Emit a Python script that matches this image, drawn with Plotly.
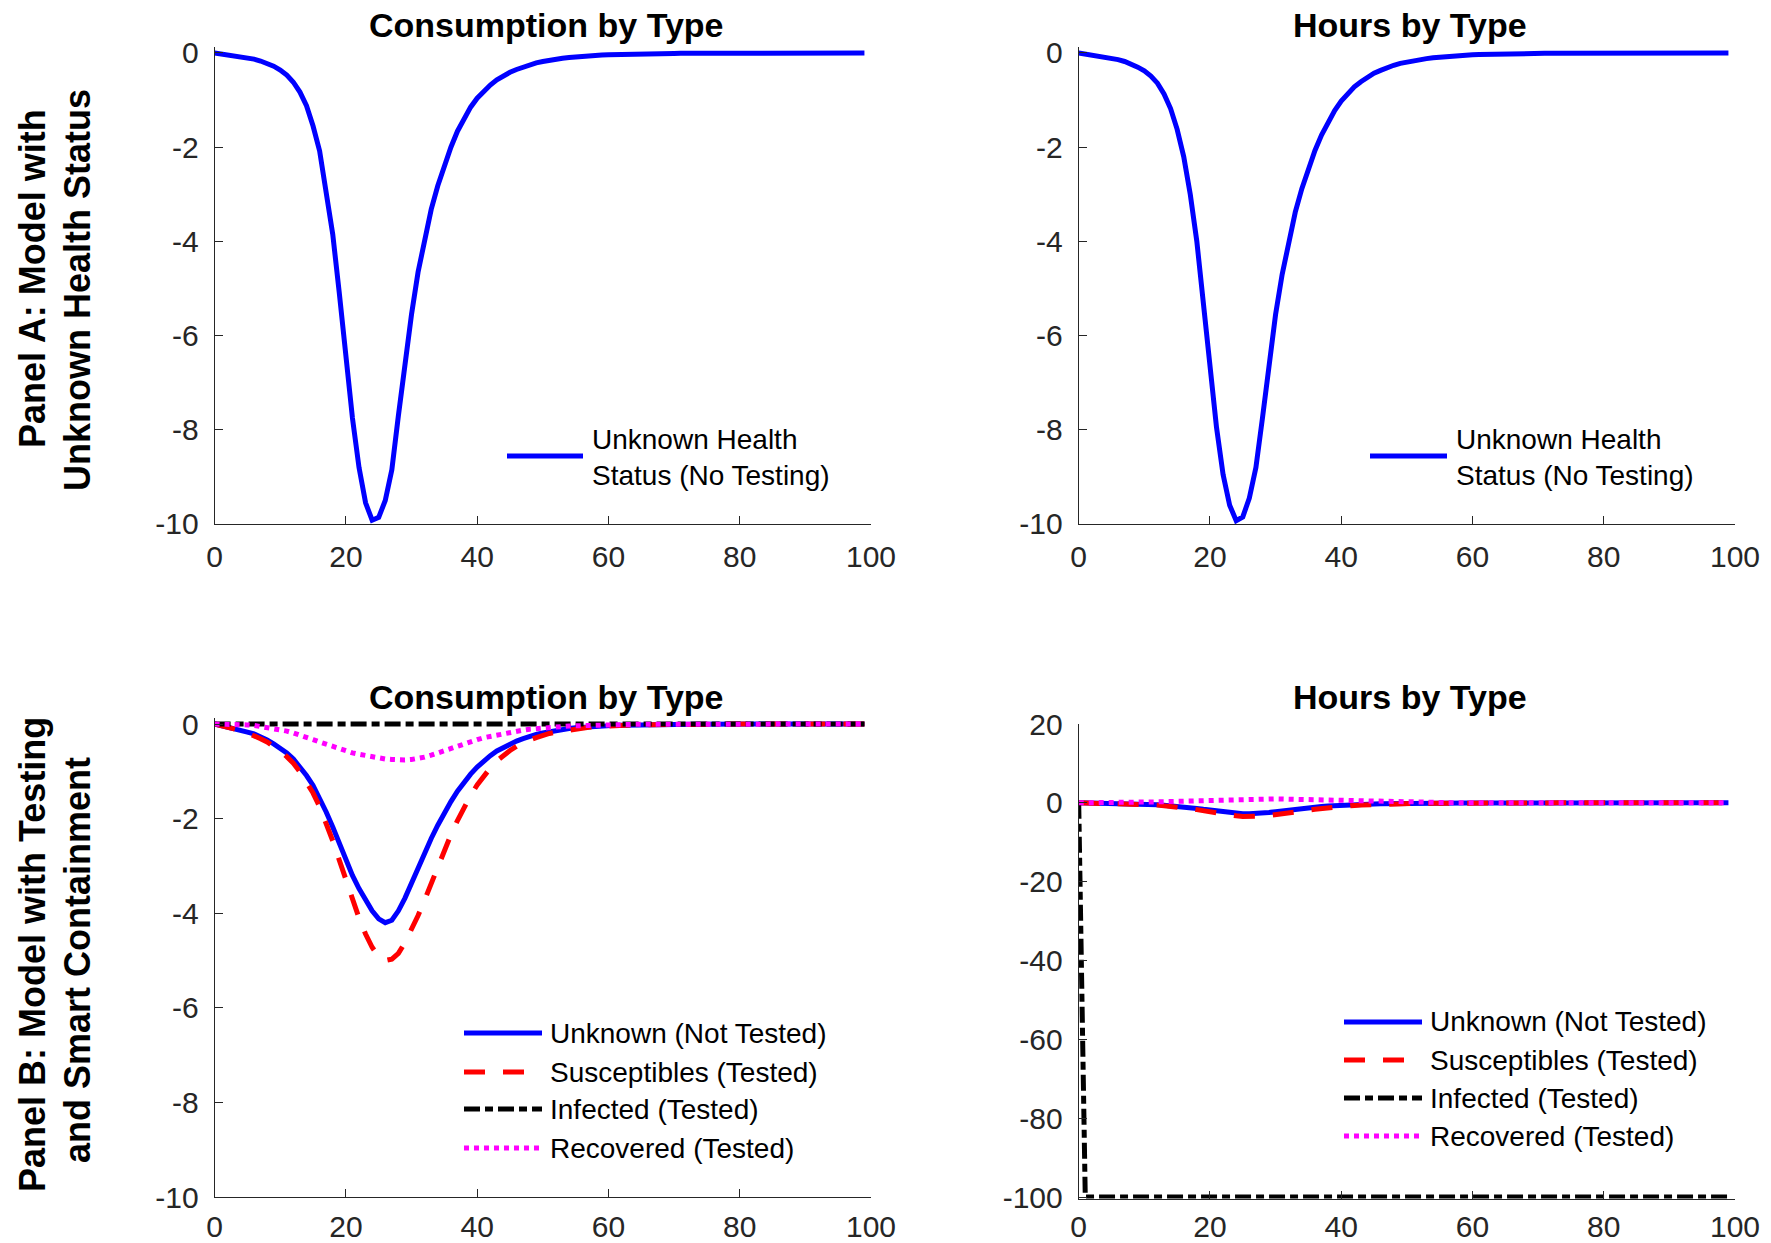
import plotly.graph_objects as go

# ---------------- data (weeks 0..99) ----------------
weeks = list(range(100))

x_ticks = [0, 20, 40, 60, 80, 100]
x_tick_text = ["0", "20", "40", "60", "80", "100"]
y_ticks_small = [-10, -8, -6, -4, -2, 0]
y_tick_text_small = ["-10", "-8", "-6", "-4", "-2", "0"]
y_ticks_big = [-100, -80, -60, -40, -20, 0, 20]
y_tick_text_big = ["-100", "-80", "-60", "-40", "-20", "0", "20"]

# Panel A: consumption, unknown health status (no testing)
cons_A = [
    0.00, -0.02, -0.04, -0.06, -0.08, -0.10, -0.13, -0.17, -0.22, -0.28,
    -0.36, -0.47, -0.62, -0.83, -1.12, -1.55, -2.08, -2.90, -3.85, -5.10,
    -6.45, -7.75, -8.80, -9.55, -9.92, -9.86, -9.50, -8.85, -7.70, -6.60,
    -5.55, -4.65, -3.92, -3.32, -2.82, -2.38, -2.00, -1.66, -1.38, -1.15,
    -0.96, -0.80, -0.68, -0.57, -0.48, -0.41, -0.35, -0.30, -0.25, -0.21,
    -0.18, -0.15, -0.13, -0.11, -0.095, -0.08, -0.068, -0.058, -0.049, -0.042,
    -0.036, -0.031, -0.026, -0.022, -0.019, -0.016, -0.014, -0.012, -0.010, -0.009,
    -0.008, -0.007, -0.006, -0.005, -0.005, -0.004, -0.004, -0.003, -0.003, -0.003,
    -0.002, -0.002, -0.002, -0.002, -0.001, -0.001, -0.001, -0.001, -0.001, -0.001,
    -0.001, -0.001, 0.0, 0.0, 0.0, 0.0, 0.0, 0.0, 0.0, 0.0,
]

# Panel A: hours, unknown health status (no testing)
hours_A = [
    0.00, -0.02, -0.04, -0.06, -0.08, -0.11, -0.14, -0.18, -0.23, -0.30,
    -0.38, -0.49, -0.64, -0.87, -1.18, -1.62, -2.20, -3.00, -4.00, -5.25,
    -6.65, -7.95, -8.95, -9.60, -9.93, -9.85, -9.45, -8.80, -7.75, -6.60,
    -5.55, -4.70, -3.98, -3.38, -2.88, -2.45, -2.07, -1.74, -1.46, -1.22,
    -1.02, -0.86, -0.72, -0.61, -0.51, -0.43, -0.37, -0.31, -0.26, -0.22,
    -0.19, -0.16, -0.14, -0.12, -0.10, -0.085, -0.072, -0.061, -0.052, -0.044,
    -0.037, -0.031, -0.026, -0.022, -0.019, -0.016, -0.014, -0.012, -0.010, -0.009,
    -0.008, -0.007, -0.006, -0.005, -0.005, -0.004, -0.004, -0.003, -0.003, -0.003,
    -0.002, -0.002, -0.002, -0.002, -0.001, -0.001, -0.001, -0.001, -0.001, -0.001,
    -0.001, -0.001, 0.0, 0.0, 0.0, 0.0, 0.0, 0.0, 0.0, 0.0,
]

# Panel B: consumption by type
cons_B_unknown = [
    0.00, -0.03, -0.06, -0.09, -0.13, -0.17, -0.21, -0.27, -0.34, -0.42,
    -0.51, -0.61, -0.74, -0.90, -1.09, -1.30, -1.56, -1.86, -2.18, -2.53,
    -2.88, -3.20, -3.48, -3.74, -3.95, -4.12, -4.20, -4.15, -3.95, -3.68,
    -3.35, -3.02, -2.72, -2.42, -2.14, -1.88, -1.64, -1.42, -1.23, -1.06,
    -0.91, -0.78, -0.67, -0.57, -0.49, -0.42, -0.36, -0.31, -0.26, -0.22,
    -0.19, -0.16, -0.135, -0.115, -0.095, -0.08, -0.068, -0.057, -0.048, -0.040,
    -0.034, -0.029, -0.024, -0.020, -0.017, -0.014, -0.012, -0.010, -0.009, -0.008,
    -0.007, -0.006, -0.005, -0.004, -0.004, -0.003, -0.003, -0.003, -0.002, -0.002,
    -0.002, -0.002, -0.001, -0.001, -0.001, -0.001, -0.001, -0.001, -0.001, -0.001,
    -0.001, 0.0, 0.0, 0.0, 0.0, 0.0, 0.0, 0.0, 0.0, 0.0,
]
cons_B_susc = [
    0.00, -0.03, -0.06, -0.10, -0.14, -0.19, -0.24, -0.31, -0.38, -0.47,
    -0.57, -0.69, -0.83, -1.01, -1.22, -1.46, -1.75, -2.09, -2.47, -2.88,
    -3.30, -3.72, -4.10, -4.44, -4.72, -4.92, -5.00, -4.97, -4.85, -4.62,
    -4.35, -4.05, -3.72, -3.36, -3.00, -2.66, -2.34, -2.04, -1.76, -1.51,
    -1.29, -1.10, -0.93, -0.78, -0.66, -0.56, -0.47, -0.40, -0.34, -0.29,
    -0.24, -0.20, -0.17, -0.145, -0.12, -0.10, -0.085, -0.070, -0.058, -0.048,
    -0.040, -0.033, -0.028, -0.023, -0.019, -0.016, -0.013, -0.011, -0.009, -0.008,
    -0.007, -0.006, -0.005, -0.004, -0.004, -0.003, -0.003, -0.003, -0.002, -0.002,
    -0.002, -0.002, -0.001, -0.001, -0.001, -0.001, -0.001, -0.001, -0.001, -0.001,
    -0.001, 0.0, 0.0, 0.0, 0.0, 0.0, 0.0, 0.0, 0.0, 0.0,
]
cons_B_inf = [
    0.0, 0.0, 0.0, 0.0, 0.0, 0.0, 0.0, 0.0, 0.0, 0.0,
    0.0, 0.0, 0.0, 0.0, 0.0, 0.0, 0.0, 0.0, 0.0, 0.0,
    0.0, 0.0, 0.0, 0.0, 0.0, 0.0, 0.0, 0.0, 0.0, 0.0,
    0.0, 0.0, 0.0, 0.0, 0.0, 0.0, 0.0, 0.0, 0.0, 0.0,
    0.0, 0.0, 0.0, 0.0, 0.0, 0.0, 0.0, 0.0, 0.0, 0.0,
    0.0, 0.0, 0.0, 0.0, 0.0, 0.0, 0.0, 0.0, 0.0, 0.0,
    0.0, 0.0, 0.0, 0.0, 0.0, 0.0, 0.0, 0.0, 0.0, 0.0,
    0.0, 0.0, 0.0, 0.0, 0.0, 0.0, 0.0, 0.0, 0.0, 0.0,
    0.0, 0.0, 0.0, 0.0, 0.0, 0.0, 0.0, 0.0, 0.0, 0.0,
    0.0, 0.0, 0.0, 0.0, 0.0, 0.0, 0.0, 0.0, 0.0, 0.0,
]
cons_B_rec = [
    0.00, 0.00, -0.01, -0.01, -0.02, -0.02, -0.03, -0.05, -0.07, -0.09,
    -0.12, -0.15, -0.19, -0.23, -0.28, -0.33, -0.38, -0.43, -0.48, -0.53,
    -0.57, -0.61, -0.64, -0.67, -0.70, -0.72, -0.74, -0.75, -0.76, -0.76,
    -0.75, -0.73, -0.70, -0.66, -0.61, -0.56, -0.51, -0.46, -0.41, -0.37,
    -0.33, -0.29, -0.26, -0.23, -0.20, -0.17, -0.15, -0.13, -0.11, -0.095,
    -0.08, -0.07, -0.06, -0.05, -0.043, -0.037, -0.031, -0.026, -0.022, -0.019,
    -0.016, -0.014, -0.012, -0.010, -0.008, -0.007, -0.006, -0.005, -0.004, -0.004,
    -0.003, -0.003, -0.002, -0.002, -0.002, -0.002, -0.001, -0.001, -0.001, -0.001,
    -0.001, -0.001, 0.0, 0.0, 0.0, 0.0, 0.0, 0.0, 0.0, 0.0,
    0.0, 0.0, 0.0, 0.0, 0.0, 0.0, 0.0, 0.0, 0.0, 0.0,
]

# Panel B: hours by type
hours_B_unknown = [
    0.00, -0.02, -0.04, -0.06, -0.09, -0.12, -0.15, -0.19, -0.24, -0.29,
    -0.35, -0.42, -0.50, -0.60, -0.72, -0.86, -1.02, -1.21, -1.42, -1.64,
    -1.87, -2.09, -2.30, -2.48, -2.63, -2.74, -2.78, -2.74, -2.62, -2.45,
    -2.24, -2.02, -1.80, -1.60, -1.41, -1.24, -1.08, -0.94, -0.81, -0.70,
    -0.60, -0.51, -0.44, -0.38, -0.32, -0.28, -0.24, -0.20, -0.17, -0.15,
    -0.12, -0.10, -0.09, -0.075, -0.063, -0.053, -0.045, -0.038, -0.032, -0.027,
    -0.022, -0.019, -0.016, -0.013, -0.011, -0.009, -0.008, -0.007, -0.006, -0.005,
    -0.004, -0.004, -0.003, -0.003, -0.002, -0.002, -0.002, -0.002, -0.001, -0.001,
    -0.001, -0.001, -0.001, -0.001, 0.0, 0.0, 0.0, 0.0, 0.0, 0.0,
    0.0, 0.0, 0.0, 0.0, 0.0, 0.0, 0.0, 0.0, 0.0, 0.0,
]
hours_B_susc = [
    0.00, -0.02, -0.04, -0.07, -0.10, -0.13, -0.17, -0.22, -0.27, -0.33,
    -0.40, -0.48, -0.58, -0.71, -0.85, -1.02, -1.23, -1.46, -1.73, -2.02,
    -2.31, -2.60, -2.87, -3.11, -3.30, -3.44, -3.50, -3.47, -3.38, -3.23,
    -3.05, -2.84, -2.60, -2.35, -2.10, -1.86, -1.64, -1.43, -1.23, -1.06,
    -0.90, -0.77, -0.65, -0.55, -0.46, -0.40, -0.34, -0.29, -0.25, -0.20,
    -0.18, -0.15, -0.12, -0.10, -0.084, -0.070, -0.060, -0.050, -0.040, -0.034,
    -0.028, -0.023, -0.019, -0.016, -0.013, -0.011, -0.009, -0.008, -0.007, -0.006,
    -0.005, -0.004, -0.004, -0.003, -0.003, -0.002, -0.002, -0.002, -0.002, -0.001,
    -0.001, -0.001, -0.001, -0.001, -0.001, 0.0, 0.0, 0.0, 0.0, 0.0,
    0.0, 0.0, 0.0, 0.0, 0.0, 0.0, 0.0, 0.0, 0.0, 0.0,
]
hours_B_inf = [
    0.0, -100.0, -100.0, -100.0, -100.0, -100.0, -100.0, -100.0, -100.0, -100.0,
    -100.0, -100.0, -100.0, -100.0, -100.0, -100.0, -100.0, -100.0, -100.0, -100.0,
    -100.0, -100.0, -100.0, -100.0, -100.0, -100.0, -100.0, -100.0, -100.0, -100.0,
    -100.0, -100.0, -100.0, -100.0, -100.0, -100.0, -100.0, -100.0, -100.0, -100.0,
    -100.0, -100.0, -100.0, -100.0, -100.0, -100.0, -100.0, -100.0, -100.0, -100.0,
    -100.0, -100.0, -100.0, -100.0, -100.0, -100.0, -100.0, -100.0, -100.0, -100.0,
    -100.0, -100.0, -100.0, -100.0, -100.0, -100.0, -100.0, -100.0, -100.0, -100.0,
    -100.0, -100.0, -100.0, -100.0, -100.0, -100.0, -100.0, -100.0, -100.0, -100.0,
    -100.0, -100.0, -100.0, -100.0, -100.0, -100.0, -100.0, -100.0, -100.0, -100.0,
    -100.0, -100.0, -100.0, -100.0, -100.0, -100.0, -100.0, -100.0, -100.0, -100.0,
]
hours_B_rec = [
    0.00, 0.00, 0.01, 0.01, 0.02, 0.03, 0.04, 0.06, 0.08, 0.11,
    0.14, 0.18, 0.22, 0.27, 0.33, 0.39, 0.45, 0.52, 0.58, 0.65,
    0.71, 0.77, 0.82, 0.87, 0.91, 0.94, 0.97, 0.99, 1.00, 1.00,
    0.99, 0.96, 0.92, 0.87, 0.81, 0.75, 0.68, 0.61, 0.55, 0.49,
    0.43, 0.38, 0.33, 0.29, 0.25, 0.22, 0.19, 0.16, 0.14, 0.12,
    0.10, 0.09, 0.075, 0.065, 0.055, 0.047, 0.040, 0.034, 0.029, 0.025,
    0.021, 0.018, 0.015, 0.013, 0.011, 0.009, 0.008, 0.007, 0.006, 0.005,
    0.004, 0.004, 0.003, 0.003, 0.002, 0.002, 0.002, 0.002, 0.001, 0.001,
    0.001, 0.001, 0.001, 0.001, 0.0, 0.0, 0.0, 0.0, 0.0, 0.0,
    0.0, 0.0, 0.0, 0.0, 0.0, 0.0, 0.0, 0.0, 0.0, 0.0,
]

name_A = "Unknown Health<br>Status (No Testing)"
names_B = ["Unknown (Not Tested)", "Susceptibles (Tested)", "Infected (Tested)", "Recovered (Tested)"]
titles = ["Consumption by Type", "Hours by Type"]
panel_A_label = ["Panel A: Model with", "Unknown Health Status"]
panel_B_label = ["Panel B: Model with Testing", "and Smart Containment"]

# ---------------- styling ----------------
W, H = 1771, 1243
FONT = "Liberation Sans, Arial, Helvetica, sans-serif"
AXC = "#262626"


def px(x):
    return x / W


def py(y):
    return 1 - y / H


LW = 5
st_unknown = dict(color="rgb(0,0,255)", width=LW, dash="solid")
st_susc = dict(color="rgb(255,0,0)", width=LW, dash="21px,18px")
st_inf = dict(color="rgb(0,0,0)", width=LW, dash="16px,5px,8px,5px")
st_rec = dict(color="rgb(255,0,255)", width=LW, dash="5px,5px")
styles_B = [st_unknown, st_susc, st_inf, st_rec]

fig = go.Figure()

fig.add_trace(go.Scatter(x=weeks, y=cons_A, mode="lines", line=st_unknown,
                         name="Unknown Health Status (No Testing)", showlegend=False,
                         xaxis="x", yaxis="y"))
fig.add_trace(go.Scatter(x=weeks, y=hours_A, mode="lines", line=st_unknown,
                         name="Unknown Health Status (No Testing)", showlegend=False,
                         xaxis="x2", yaxis="y2"))

for series, nm, stl in zip([cons_B_unknown, cons_B_susc, cons_B_inf, cons_B_rec], names_B, styles_B):
    fig.add_trace(go.Scatter(x=weeks, y=series, mode="lines", line=stl, name=nm,
                             showlegend=False, xaxis="x3", yaxis="y3"))
for series, nm, stl in zip([hours_B_unknown, hours_B_susc, hours_B_inf, hours_B_rec], names_B, styles_B):
    fig.add_trace(go.Scatter(x=weeks, y=series, mode="lines", line=stl, name=nm,
                             showlegend=False, xaxis="x4", yaxis="y4"))

axis_common = dict(
    showgrid=False, zeroline=False, showline=True, linecolor=AXC, linewidth=1,
    ticks="inside", ticklen=8, tickwidth=1, tickcolor=AXC, automargin=False,
    tickfont=dict(family=FONT, size=30, color=AXC), fixedrange=True,
)

xd_left = [px(214.6), px(871.0)]
xd_right = [px(1078.7), px(1735.0)]
yd_top = [py(524.0), py(53.0 - 0.12 * 47.1)]
yd_bl = [py(1197.0), py(724.0 - 0.12 * 47.3)]
yd_br = [py(1197.0 + 0.4 * 473.0 / 120.0), py(724.0)]

xa_top = dict(range=[0, 100], tickvals=x_ticks, ticktext=x_tick_text, ticklabelstandoff=6, **axis_common)
xa_bl = dict(range=[0, 100], tickvals=x_ticks, ticktext=x_tick_text, ticklabelstandoff=3, **axis_common)
xa_br = dict(range=[0, 100], tickvals=x_ticks, ticktext=x_tick_text, ticklabelstandoff=1, **axis_common)
fig.update_layout(
    xaxis=dict(domain=xd_left, anchor="y", **xa_top),
    xaxis2=dict(domain=xd_right, anchor="y2", **xa_top),
    xaxis3=dict(domain=xd_left, anchor="y3", **xa_bl),
    xaxis4=dict(domain=xd_right, anchor="y4", **xa_br),
    yaxis=dict(domain=yd_top, anchor="x", range=[-10, 0.12], tickvals=y_ticks_small,
               ticktext=y_tick_text_small, ticklabelstandoff=9, **axis_common),
    yaxis2=dict(domain=yd_top, anchor="x2", range=[-10, 0.12], tickvals=y_ticks_small,
                ticktext=y_tick_text_small, ticklabelstandoff=9, **axis_common),
    yaxis3=dict(domain=yd_bl, anchor="x3", range=[-10, 0.12], tickvals=y_ticks_small,
                ticktext=y_tick_text_small, ticklabelstandoff=9, **axis_common),
    yaxis4=dict(domain=yd_br, anchor="x4", range=[-100.4, 20], tickvals=y_ticks_big,
                ticktext=y_tick_text_big, ticklabelstandoff=9, **axis_common),
)

annotations = []
shapes = []

# subplot titles
for cx, cy, txt in [(546, 25, titles[0]), (1410, 25, titles[1]),
                    (546, 697, titles[0]), (1410, 697, titles[1])]:
    annotations.append(dict(x=px(cx), y=py(cy), xref="paper", yref="paper", text=txt,
                            showarrow=False, xanchor="center", yanchor="middle",
                            font=dict(family=FONT, size=34, color="black", weight="bold")))

# panel labels (rotated)
for cx, cy, txt in [(32, 279, panel_A_label[0]), (77, 290, panel_A_label[1]),
                    (32, 955, panel_B_label[0]), (77, 960, panel_B_label[1])]:
    annotations.append(dict(x=px(cx), y=py(cy), xref="paper", yref="paper", text=txt,
                            showarrow=False, textangle=-90, xanchor="center", yanchor="middle",
                            font=dict(family=FONT, size=36, color="black", weight="bold")))

LEG_FONT = dict(family=FONT, size=28, color="black")

# Panel A legends (one entry each)
for x0, x1, tx in [(507, 583, 590), (1370, 1447, 1454)]:
    shapes.append(dict(type="line", xref="paper", yref="paper", x0=px(x0), x1=px(x1),
                       y0=py(456), y1=py(456), line=st_unknown))
    annotations.append(dict(x=px(tx), y=py(457), xref="paper", yref="paper", text=name_A,
                            showarrow=False, xanchor="left", yanchor="middle", align="left",
                            font=LEG_FONT))

# Panel B legends (four entries each)
for x0, x1, tx, rows in [(464, 542, 548, [1033, 1072, 1109, 1148]),
                         (1344, 1422, 1428, [1022, 1060, 1098, 1136])]:
    for ry, nm, stl in zip(rows, names_B, styles_B):
        shapes.append(dict(type="line", xref="paper", yref="paper", x0=px(x0), x1=px(x1),
                           y0=py(ry), y1=py(ry), line=stl))
        annotations.append(dict(x=px(tx), y=py(ry), xref="paper", yref="paper", text=nm,
                                showarrow=False, xanchor="left", yanchor="middle", align="left",
                                font=LEG_FONT))

fig.update_layout(
    width=W, height=H, margin=dict(l=0, r=0, t=0, b=0, autoexpand=False),
    paper_bgcolor="white", plot_bgcolor="white",
    showlegend=False, annotations=annotations, shapes=shapes,
    font=dict(family=FONT, color="black"),
)

fig.write_html("out.html", config={"displayModeBar": False})
